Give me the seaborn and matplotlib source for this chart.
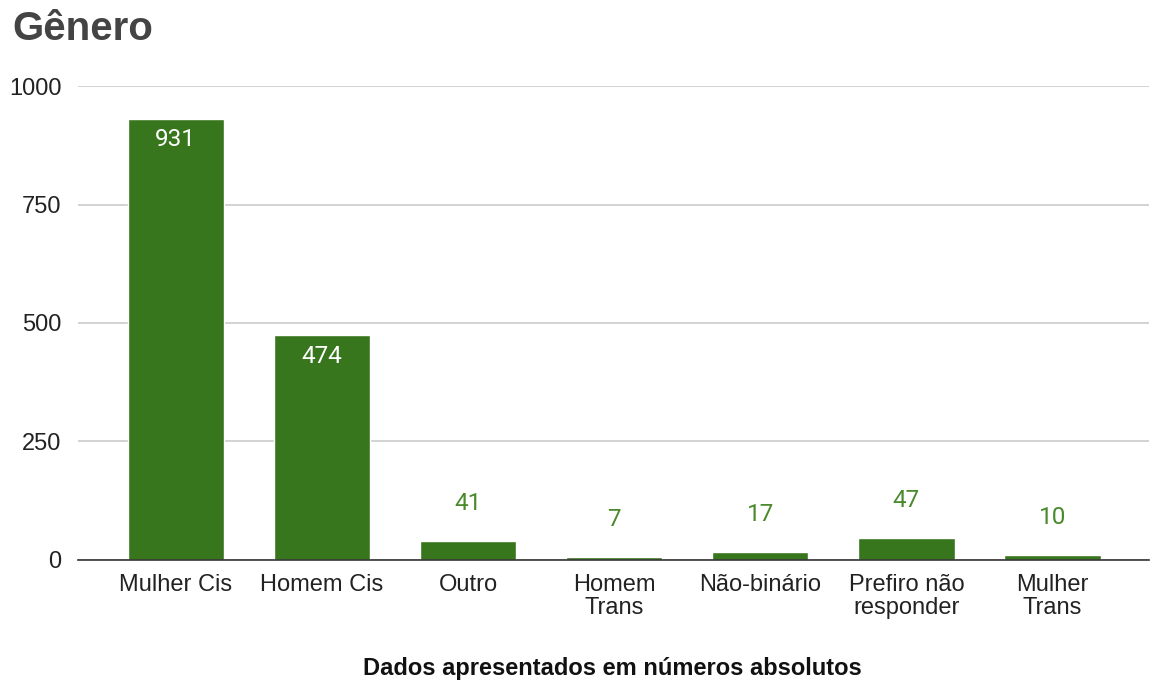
import pandas as pd
import numpy as np
import matplotlib
matplotlib.use('Agg')
import matplotlib.pyplot as plt
import seaborn as sns

# Data
categorias = ['Mulher Cis', 'Homem Cis', 'Outro', 'Homem\nTrans', 'Não-binário',
              'Prefiro não\nresponder', 'Mulher\nTrans']
valores = [931, 474, 41, 7, 17, 47, 10]
yticks = [0, 250, 500, 750, 1000]

df = pd.DataFrame({'Genero': categorias, 'Total': valores})

sns.set_theme(style='white')
plt.rcParams['font.family'] = ['Liberation Sans', 'DejaVu Sans']

verde = '#38761d'

fig = plt.figure(figsize=(11.57, 6.81), dpi=100)
ax = fig.add_axes([0.0674, 0.1777, 0.9256, 0.696])

sns.barplot(data=df, x='Genero', y='Total', color=verde, width=0.66,
            saturation=1, ax=ax, zorder=3)

ax.set_xlim(-0.67, 6.66)
ax.set_ylim(0, 1000)
ax.set_yticks(yticks)
ax.set_yticklabels([str(t) for t in yticks], fontsize=17, color='#222222')
for lab in ax.get_xticklabels():
    lab.set_linespacing(1.05)
ax.tick_params(axis='x', labelsize=17, colors='#222222', length=0, pad=10)
ax.tick_params(axis='y', length=0, pad=12)
ax.yaxis.grid(True, color='#cccccc', linewidth=1.2, zorder=0)
for s in ['top', 'right', 'left']:
    ax.spines[s].set_visible(False)
ax.spines['bottom'].set_color('#333333')
ax.spines['bottom'].set_linewidth(1.2)
ax.spines['bottom'].set_zorder(4)
ax.set_xlabel('')
ax.set_ylabel('')

# Data labels
for i, v in enumerate(valores):
    if v > 100:
        ax.annotate(str(v), (i, v), xytext=(0, -15), textcoords='offset points',
                    ha='center', va='center', color='white', fontsize=17.5,
                    family=['Roboto', 'DejaVu Sans'], zorder=5)
    else:
        ax.annotate(str(v), (i, v), xytext=(0, 27), textcoords='offset points',
                    ha='center', va='center', color='#4a8a2c', fontsize=17.5,
                    family=['Roboto', 'DejaVu Sans'], zorder=5)

fig.text(0.0104, 0.958, 'Gênero', fontsize=29, fontweight='bold',
         color='#444444', va='center', ha='left')
fig.text(0.529, 0.019, 'Dados apresentados em números absolutos', fontsize=17,
         fontweight='bold', color='#111111', va='center', ha='center')

plt.savefig('out.png', dpi=100)
